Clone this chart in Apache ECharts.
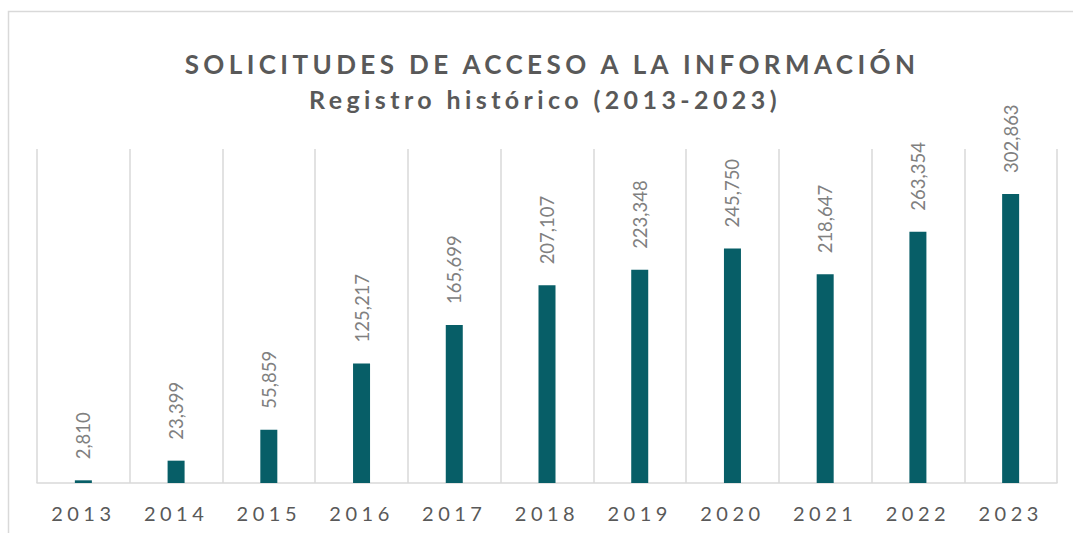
<!DOCTYPE html>
<html>
<head>
<meta charset="utf-8">
<script src="https://cdn.jsdelivr.net/npm/echarts@6/dist/echarts.min.js"></script>
<style>
  html, body { margin: 0; padding: 0; background: #fff; }
  #chart { width: 1073px; height: 533px; }
  svg text[style*="lsTitle"] { letter-spacing: 4.4px; }
  svg text[style*="lsSub"] { letter-spacing: 4.4px; }
  svg text[style*="lsAxis"] { letter-spacing: 4.5px; }
</style>
</head>
<body>
<div id="chart"></div>
<script>
const titleText = 'SOLICITUDES DE ACCESO A LA INFORMACIÓN';
const subtitleText = 'Registro histórico (2013-2023)';
const years = ['2013', '2014', '2015', '2016', '2017', '2018', '2019', '2020', '2021', '2022', '2023'];
const solicitudes = [2810, 23399, 55859, 125217, 165699, 207107, 223348, 245750, 218647, 263354, 302863];

const chart = echarts.init(document.getElementById('chart'), null, { renderer: 'svg' });
chart.setOption({
  animation: false,
  backgroundColor: '#ffffff',
  graphic: [{
    type: 'rect',
    shape: { x: 8.5, y: 11.5, width: 1100, height: 560 },
    style: { fill: 'none', stroke: '#d9d9d9', lineWidth: 1.5 },
    silent: true
  }],
  title: [{
    text: titleText,
    left: 552,
    top: 51,
    textAlign: 'center',
    padding: 0,
    textStyle: { fontFamily: 'Lato, lsTitle', fontWeight: 'bold', fontSize: 26, color: '#595959' }
  }, {
    text: subtitleText,
    left: 545,
    top: 86,
    textAlign: 'center',
    padding: 0,
    textStyle: { fontFamily: 'Lato, lsSub', fontWeight: 'bold', fontSize: 25, color: '#595959' }
  }],
  grid: { left: 37, right: 16, top: 149, bottom: 50, containLabel: false },
  xAxis: {
    type: 'category',
    data: years,
    boundaryGap: true,
    axisLine: { show: true, lineStyle: { color: '#d9d9d9', width: 1.5 } },
    axisTick: { show: false },
    splitLine: { show: true, lineStyle: { color: '#d9d9d9', width: 1.5 } },
    axisLabel: { fontFamily: 'Lato, lsAxis', fontSize: 20, color: '#595959', margin: 20 }
  },
  yAxis: {
    type: 'value',
    min: 0,
    max: 350000,
    show: false,
    splitLine: { show: false }
  },
  series: [{
    type: 'bar',
    data: solicitudes,
    barWidth: 17,
    itemStyle: { color: '#075e67' },
    label: {
      show: true,
      position: 'top',
      rotate: 90,
      align: 'left',
      verticalAlign: 'middle',
      distance: 21,
      fontFamily: 'Lato',
      fontSize: 18.5,
      color: '#808080',
      formatter: p => p.value.toLocaleString('en-US')
    }
  }]
});
</script>
</body>
</html>
